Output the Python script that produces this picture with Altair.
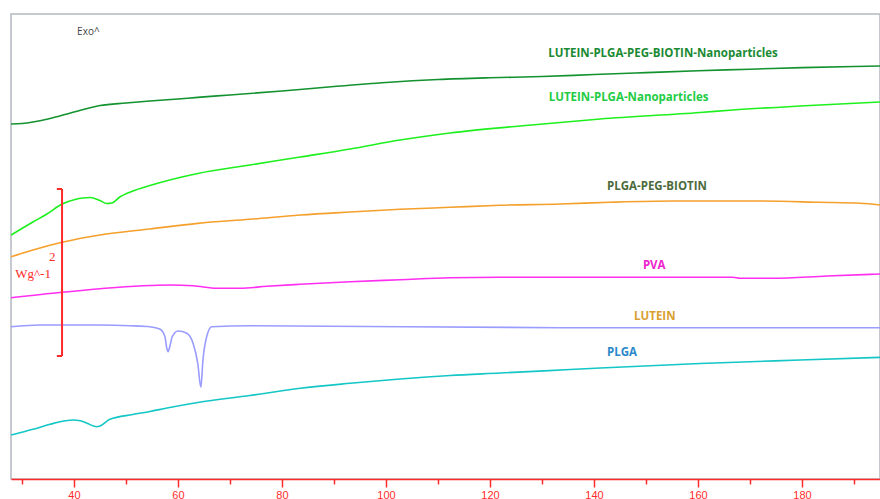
import altair as alt
import pandas as pd

# DSC thermograms (temperature in °C, heat flow in W/g, traces offset vertically)
dg_t = [27.9, 30.0, 35.0, 40.0, 45.0, 50.0, 54.6, 60.0, 63.8, 70.0, 80.0, 90.0, 100.0,
        110.0, 120.0, 130.0, 140.0, 150.0, 160.0, 170.0, 180.0, 190.0, 195.0]
dg_h = [4.251, 4.257, 4.311, 4.395, 4.473, 4.503, 4.527, 4.551, 4.571, 4.599, 4.647, 4.701, 4.749,
        4.784, 4.805, 4.820, 4.844, 4.867, 4.890, 4.908, 4.927, 4.940, 4.946]

bg_t = [27.9, 32.1, 34.8, 37.7, 40.2, 41.7, 43.1, 45.0, 46.3, 47.3, 48.8, 51.3, 54.6, 63.8, 73.8,
        83.5, 93.1, 102.7, 112.3, 125.8, 141.2, 160.4, 166.7, 179.6, 195.0]
bg_h = [2.922, 3.078, 3.174, 3.293, 3.347, 3.365, 3.371, 3.335, 3.299, 3.305, 3.377, 3.449, 3.515, 3.659, 3.760,
        3.856, 3.952, 4.060, 4.144, 4.228, 4.311, 4.389, 4.419, 4.467, 4.515]

or_t = [27.9, 32.1, 37.7, 45.0, 54.6, 63.8, 73.8, 83.5, 93.1, 102.7, 112.3, 121.9, 133.5,
        143.1, 155.2, 171.9, 183.5, 191.2, 195.0]
or_h = [2.662, 2.743, 2.835, 2.922, 2.994, 3.062, 3.110, 3.162, 3.198, 3.230, 3.254, 3.278, 3.293,
        3.314, 3.329, 3.329, 3.314, 3.302, 3.281]

pva_t = [27.9, 37.7, 54.6, 58.5, 62.9, 67.5, 71.9, 77.1, 83.5, 93.1, 102.7, 112.3, 121.9,
         166.7, 168.1, 174.4, 184.8, 193.1, 195.0]
pva_h = [2.171, 2.236, 2.317, 2.323, 2.315, 2.284, 2.284, 2.308, 2.332, 2.363, 2.387, 2.411, 2.416,
         2.416, 2.404, 2.404, 2.431, 2.451, 2.455]

lut_t = [27.9, 33.5, 45.0, 50.8, 54.6, 56.5, 57.5, 57.8, 58.1, 58.4, 58.9, 60.0, 61.7, 62.9,
         63.8, 64.4, 64.8, 65.6, 66.5, 73.8, 133.5, 195.0]
lut_h = [1.824, 1.844, 1.844, 1.836, 1.824, 1.796, 1.704, 1.581, 1.525, 1.581, 1.704, 1.772, 1.745, 1.625,
         1.386, 1.098, 1.425, 1.725, 1.824, 1.836, 1.812, 1.812]

plga_t = [27.9, 32.1, 35.4, 37.3, 39.8, 41.2, 42.5, 44.4, 45.0, 46.9, 51.3, 54.6, 57.9, 63.8,
          73.8, 83.5, 93.1, 102.7, 112.3, 121.9, 135.4, 141.2, 160.4, 179.6, 195.0]
plga_h = [0.527, 0.595, 0.655, 0.686, 0.707, 0.698, 0.667, 0.626, 0.635, 0.715, 0.772, 0.808, 0.850, 0.916,
          1.000, 1.086, 1.146, 1.198, 1.240, 1.269, 1.311, 1.329, 1.383, 1.425, 1.457]

series = [
    ("LUTEIN-PLGA-PEG-BIOTIN-Nanoparticles", dg_t, dg_h, "#13922f"),
    ("LUTEIN-PLGA-Nanoparticles", bg_t, bg_h, "#1ef01e"),
    ("PLGA-PEG-BIOTIN", or_t, or_h, "#f5a02c"),
    ("PVA", pva_t, pva_h, "#ff2ef0"),
    ("LUTEIN", lut_t, lut_h, "#9a9cff"),
    ("PLGA", plga_t, plga_h, "#14c6c6"),
]

# Curve labels: text, anchor temperature, anchor heat flow, colour
label_text = ["LUTEIN-PLGA-PEG-BIOTIN-Nanoparticles", "LUTEIN-PLGA-Nanoparticles",
              "PLGA-PEG-BIOTIN", "PVA", "LUTEIN", "PLGA"]
label_t = [131.2, 131.3, 142.5, 149.4, 147.7, 142.5]
label_h = [5.090, 4.563, 3.497, 2.551, 1.940, 1.509]
label_color = ["#1b8a34", "#22cc44", "#4b6b3b", "#ee22cc", "#d9a030", "#2a88c8"]

# 2 W/g scale bar
bar_t = 37.7
bar_low = 1.473
bar_high = 3.473
cap_t0 = 36.7

tick_values = [30, 40, 50, 60, 70, 80, 90, 100, 110, 120, 130, 140, 150, 160, 170, 180, 190]

x_scale = alt.Scale(domain=[27.885, 195.0], nice=False, zero=False)
y_scale = alt.Scale(domain=[0, 5.569], nice=False, zero=False)

RED = "#ff2a2a"

rows = []
for name, ts, hs, col in series:
    for t, h in zip(ts, hs):
        rows.append({"sample": name, "T": t, "H": h})
df = pd.DataFrame(rows)

x_axis = alt.Axis(
    values=tick_values,
    labelExpr="datum.value % 20 === 0 ? datum.label : ''",
    grid=False, title=None,
    domainColor=RED, domainWidth=1.6,
    tickColor=RED, tickWidth=1.5,
    tickSize={"condition": {"test": "datum.value % 20 === 0", "value": 8}, "value": 5},
    labelColor=RED, labelFont="Liberation Sans", labelFontSize=11, labelPadding=2,
    labelFlush=False,
)

lines = alt.Chart(df).mark_line(strokeWidth=1.6, interpolate="monotone").encode(
    x=alt.X("T:Q", scale=x_scale, axis=x_axis),
    y=alt.Y("H:Q", scale=y_scale, axis=None),
    color=alt.Color("sample:N",
                    scale=alt.Scale(domain=[s[0] for s in series], range=[s[3] for s in series]),
                    legend=None),
    detail="sample:N",
)

lab_df = pd.DataFrame({"text": label_text, "T": label_t, "H": label_h, "c": label_color})
labels = alt.Chart(lab_df).mark_text(
    align="left", baseline="middle", font="Open Sans", fontSize=11.5, fontWeight="bold"
).encode(
    x=alt.X("T:Q", scale=x_scale),
    y=alt.Y("H:Q", scale=y_scale),
    text="text:N",
    color=alt.Color("c:N", scale=None),
)

exo = alt.Chart(pd.DataFrame({"T": [40.6], "H": [5.353], "text": ["Exo^"]})).mark_text(
    align="left", baseline="middle", font="Open Sans", fontSize=10, color="#444444"
).encode(x=alt.X("T:Q", scale=x_scale), y=alt.Y("H:Q", scale=y_scale), text="text:N")

bar_df = pd.DataFrame({"T": [bar_t], "lo": [bar_low], "hi": [bar_high]})
bar = alt.Chart(bar_df).mark_rule(color=RED, strokeWidth=2).encode(
    x=alt.X("T:Q", scale=x_scale), y=alt.Y("lo:Q", scale=y_scale), y2="hi:Q"
)
caps_df = pd.DataFrame({"T0": [cap_t0, cap_t0], "T1": [bar_t, bar_t], "H": [bar_low, bar_high]})
caps = alt.Chart(caps_df).mark_rule(color=RED, strokeWidth=2).encode(
    x=alt.X("T0:Q", scale=x_scale), x2="T1:Q", y=alt.Y("H:Q", scale=y_scale)
)
unit_df = pd.DataFrame({"T": [35.2, 28.7], "H": [2.659, 2.455], "text": ["2", "Wg^-1"]})
unit = alt.Chart(unit_df).mark_text(
    align="left", baseline="middle", font="Liberation Serif", fontSize=13, color=RED
).encode(x=alt.X("T:Q", scale=x_scale), y=alt.Y("H:Q", scale=y_scale), text="text:N")

chart = alt.layer(lines, labels, exo, bar, caps, unit).properties(
    width=869, height=465,
    autosize=alt.AutoSizeParams(type="none"),
    padding={"left": 11, "top": 14, "right": 0, "bottom": 20},
    background="white",
).configure_view(stroke="#b4b8c0", strokeWidth=1.5)

chart.save("out.html", embed_options={"renderer": "svg", "actions": False})
